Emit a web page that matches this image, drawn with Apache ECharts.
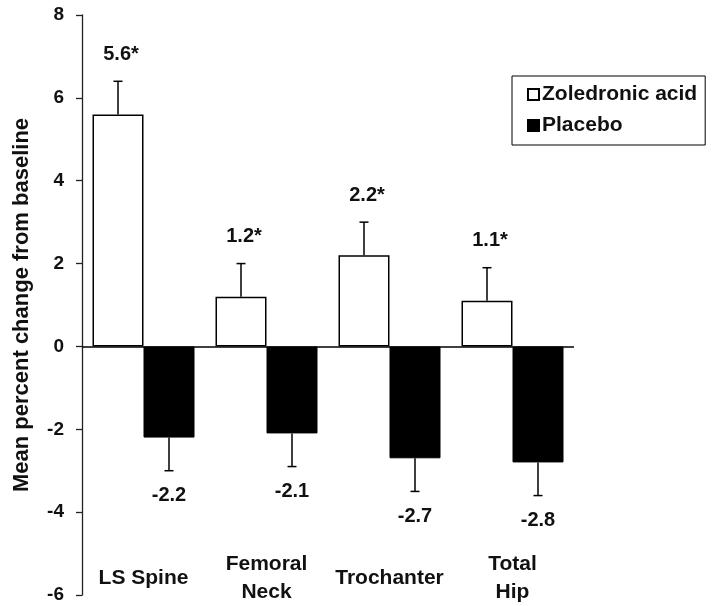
<!DOCTYPE html>
<html>
<head>
<meta charset="utf-8">
<script src="https://cdn.jsdelivr.net/npm/echarts@6/dist/echarts.min.js"></script>
<style>
  html, body { margin: 0; padding: 0; background: #fff; }
  #chart { width: 715px; height: 606px; }
</style>
</head>
<body>
<div id="chart"></div>
<script>
// Bone mineral density sites and mean percent change from baseline
const categories = ['LS Spine', 'Femoral\nNeck', 'Trochanter', 'Total\nHip'];
const zoledronic = [5.6, 1.2, 2.2, 1.1];
const placebo = [-2.2, -2.1, -2.7, -2.8];
// Standard error shown as one-sided whiskers
const zoledronicErr = [0.8, 0.8, 0.8, 0.8];
const placeboErr = [0.8, 0.8, 0.8, 0.8];
// Significance marker appended to the treatment values
const signif = ['*', '*', '*', '*'];
const seriesNames = ['Zoledronic acid', 'Placebo'];
const yMin = -6, yMax = 8, yStep = 2;

const FONT = '"Liberation Sans", Arial, Helvetica, sans-serif';
const BAR_W = 51;

const chart = echarts.init(document.getElementById('chart'), null, { renderer: 'canvas' });

// Whisker + value label, drawn at the outer end of each bar
function errorRenderer(side, errs, suffix) {
  return function (params, api) {
    const i = api.value(0);
    const v = api.value(1);
    const e = errs[i];
    const up = v >= 0;
    const base = api.coord([i, v]);
    const x = base[0] + side * BAR_W / 2;
    const tip = api.coord([i, up ? v + e : v - e]);
    const capHalf = 4.5;
    const text = v.toFixed(1) + (suffix ? suffix[i] : '');
    return {
      type: 'group',
      children: [
        { type: 'line', shape: { x1: x, y1: base[1], x2: x, y2: tip[1] },
          style: { stroke: '#000', lineWidth: 1.5 } },
        { type: 'line', shape: { x1: x - capHalf, y1: tip[1], x2: x + capHalf, y2: tip[1] },
          style: { stroke: '#000', lineWidth: 1.5 } },
        { type: 'text',
          style: { x: x + (suffix ? 3 : 0), y: up ? tip[1] - 27 : tip[1] + 25, text: text,
                   align: 'center', verticalAlign: 'middle',
                   font: 'bold 20px ' + FONT, fill: '#111' } }
      ]
    };
  };
}

const option = {
  animation: false,
  backgroundColor: '#fff',
  grid: { left: 82, right: 141, top: 15, bottom: 10, containLabel: false },
  legend: {
    orient: 'vertical',
    left: 512, top: 76,
    data: seriesNames,
    icon: 'rect',
    itemWidth: 11, itemHeight: 11, itemGap: 10,
    borderColor: '#000', borderWidth: 1,
    padding: [8, 8, 9, 15],
    textStyle: { fontFamily: FONT, fontWeight: 'bold', fontSize: 21, color: '#111', padding: [0, 0, 0, -2] }
  },
  xAxis: {
    type: 'category',
    data: categories,
    axisLine: { show: false, onZero: false },
    axisTick: { show: false },
    axisLabel: {
      margin: -17, verticalAlign: 'middle', lineHeight: 28,
      fontFamily: FONT, fontWeight: 'bold', fontSize: 21, color: '#111',
      interval: 0
    }
  },
  yAxis: {
    type: 'value',
    min: yMin, max: yMax, interval: yStep,
    name: 'Mean percent change from baseline',
    nameLocation: 'middle', nameGap: 49,
    nameTextStyle: { fontFamily: FONT, fontWeight: 'bold', fontSize: 22, color: '#111' },
    axisLine: { show: true, lineStyle: { color: '#222', width: 1.3 } },
    axisTick: { show: true, length: 6, lineStyle: { color: '#222', width: 1.3 } },
    axisLabel: { margin: 18, fontFamily: FONT, fontWeight: 'bold', fontSize: 19, color: '#111' },
    splitLine: { show: false }
  },
  series: [
    {
      name: seriesNames[0], type: 'bar', data: zoledronic,
      barWidth: BAR_W, barGap: '0%',
      itemStyle: { color: '#fff', borderColor: '#000', borderWidth: 1.5 }
    },
    {
      name: seriesNames[1], type: 'bar', data: placebo,
      barWidth: BAR_W, barGap: '0%',
      itemStyle: { color: '#000', borderColor: '#000', borderWidth: 1 },
      markLine: {
        silent: true, symbol: ['none', 'none'],
        label: { show: false },
        lineStyle: { color: '#000', type: 'solid', width: 1.5 },
        data: [{ yAxis: 0 }]
      }
    },
    {
      type: 'custom', name: 'zolErr',
      renderItem: errorRenderer(-1, zoledronicErr, signif),
      data: zoledronic.map((v, i) => [i, v]),
      z: 5
    },
    {
      type: 'custom', name: 'plaErr',
      renderItem: errorRenderer(1, placeboErr, null),
      data: placebo.map((v, i) => [i, v]),
      z: 5
    }
  ]
};

chart.setOption(option);
</script>
</body>
</html>
